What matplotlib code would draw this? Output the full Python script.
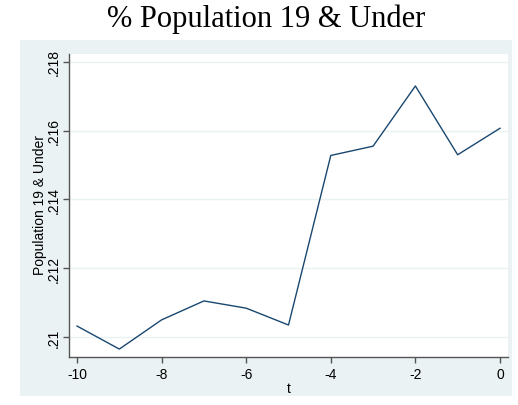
import numpy as np
import matplotlib
matplotlib.use('Agg')
import matplotlib.pyplot as plt

t = [-10, -9, -8, -7, -6, -5, -4, -3, -2, -1, 0]
pop19 = [.21032, .20965, .21050, .21105, .21084, .21035,
         .21528, .21555, .21730, .21530, .21607]
xticks = [-10, -8, -6, -4, -2, 0]
yticks = [.210, .212, .214, .216, .218]
yticklabels = ['.21', '.212', '.214', '.216', '.218']

bg = '#eaf2f3'
navy = '#1a476f'
axcol = '#555555'

plt.rcParams['font.family'] = ['Liberation Sans', 'DejaVu Sans']

fig = plt.figure(figsize=(5.18, 4.06), dpi=100)

# light background region behind the plot (graph region)
bgax = fig.add_axes([20/518, 9/406, 492/518, 356/406], zorder=0)
bgax.set_facecolor(bg)
bgax.set_xticks([])
bgax.set_yticks([])
for s in bgax.spines.values():
    s.set_visible(False)

ax = fig.add_axes([69/518, 48/406, 439/518, 303/406], zorder=1)
ax.set_facecolor('white')
ax.plot(t, pop19, color=navy, linewidth=1.0)

ax.set_xlim(-10.19, 0.19)
ax.set_ylim(.20942, .21823)
ax.set_xticks(xticks)
ax.set_xticklabels([str(v) for v in xticks])
ax.set_yticks(yticks)
ax.set_yticklabels(yticklabels, rotation=90, va='center')
ax.grid(axis='y', color=bg, linewidth=1.0)
ax.set_axisbelow(True)

for s in ['top', 'right']:
    ax.spines[s].set_visible(False)
for s in ['left', 'bottom']:
    ax.spines[s].set_color(axcol)
    ax.spines[s].set_linewidth(1.0)
ax.tick_params(colors=axcol, labelcolor='black', labelsize=10, length=4.5, width=1)
ax.tick_params(axis='y', pad=1.5)
ax.tick_params(axis='x', pad=2.5)

ax.set_xlabel('t', fontsize=10, labelpad=0)
fig.text(40/518, 1 - 205/406, 'Population 19 & Under', rotation=90,
         ha='center', va='center', fontsize=10, zorder=3)

fig.text(266/518, 1 - 19/406, '% Population 19 & Under', ha='center',
         va='center', fontsize=22, family=['Liberation Serif', 'DejaVu Serif'])

fig.savefig('out.png', dpi=100, facecolor='white')
